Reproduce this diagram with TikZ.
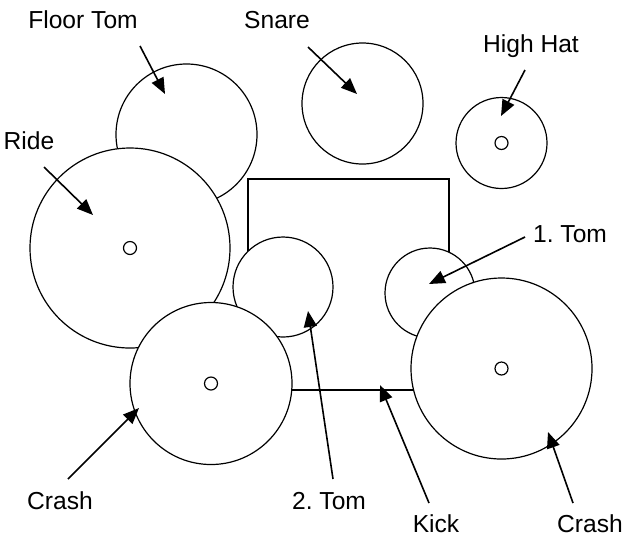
\documentclass[tikz,border=0pt]{standalone}
\usepackage{fontspec}
\setmainfont{Liberation Sans}
\usetikzlibrary{arrows.meta}
\tikzstyle{drum}=[circle,draw,fill=white,inner sep=0pt,line width=0.6pt]
\tikzstyle{hub}=[circle,draw,fill=white,inner sep=0pt,minimum size=6.5pt,line width=0.6pt]
\tikzstyle{kickbox}=[draw,fill=white,inner sep=0pt,line width=0.6pt,minimum width=100.5pt,minimum height=105.5pt]
\tikzstyle{lbl}=[font=\fontsize{12.3}{14}\selectfont,inner sep=0pt,anchor=base]
\tikzstyle{ptr}=[line width=0.8pt,-{Triangle[length=8pt,width=6.5pt]}]

\begin{document}
\begin{tikzpicture}[x=0.5pt,y=-0.5pt]
\useasboundingbox (0,0) rectangle (624,537);
% back row
\foreach \name/\xc/\yc/\r in {floortom/186.5/134.5/70.5, ride/130/248/100, snare/362.5/103.5/60.5, hihat/501.5/143/45.5}
	\node[drum,minimum size=\r*1pt] (\name) at (\xc,\yc) {};
\node[hub] (ride-hub) at (ride.center) {};
\node[hub] (hihat-hub) at (hihat.center) {};
% kick and front row
\node[kickbox] (kick) at (348.5,284.5) {};
\foreach \name/\xc/\yc/\r in {tomtwo/283/287/50, tomone/430/293/45, crashl/211/383.5/81, crashr/501.5/368.5/90.5}
	\node[drum,minimum size=\r*1pt] (\name) at (\xc,\yc) {};
\node[hub] (crashl-hub) at (crashl.center) {};
\node[hub] (crashr-hub) at (crashr.center) {};
% labels
\node[lbl] (floortom-lbl) at (83,28) {Floor Tom};
\node[lbl] (snare-lbl) at (277,28) {Snare};
\node[lbl] (hihat-lbl) at (531,52) {High Hat};
\node[lbl] (ride-lbl) at (29,149) {Ride};
\node[lbl] (tomone-lbl) at (570,242) {1.\ Tom};
\node[lbl] (crashl-lbl) at (60,509) {Crash};
\node[lbl] (tomtwo-lbl) at (329,509) {2.\ Tom};
\node[lbl] (kick-lbl) at (436,532) {Kick};
\node[lbl] (crashr-lbl) at (590,532) {Crash};
% pointers
\foreach \n/\xa/\ya/\xb/\yb in {floortom/140/46/165/94, snare/308/47/357/94, hihat/525/70/501/116, ride/44/167/93/215, tomone/525/237/429/284, tomtwo/333/479/308/311, kick/429/503/380/385, crashl/68/479/139/408, crashr/573/503/548/432} {
	\coordinate (\n-from) at (\xa,\ya);
	\coordinate (\n-to) at (\xb,\yb);
	\draw[ptr] (\n-from) -- (\n-to);
}
\end{tikzpicture}
\end{document}
